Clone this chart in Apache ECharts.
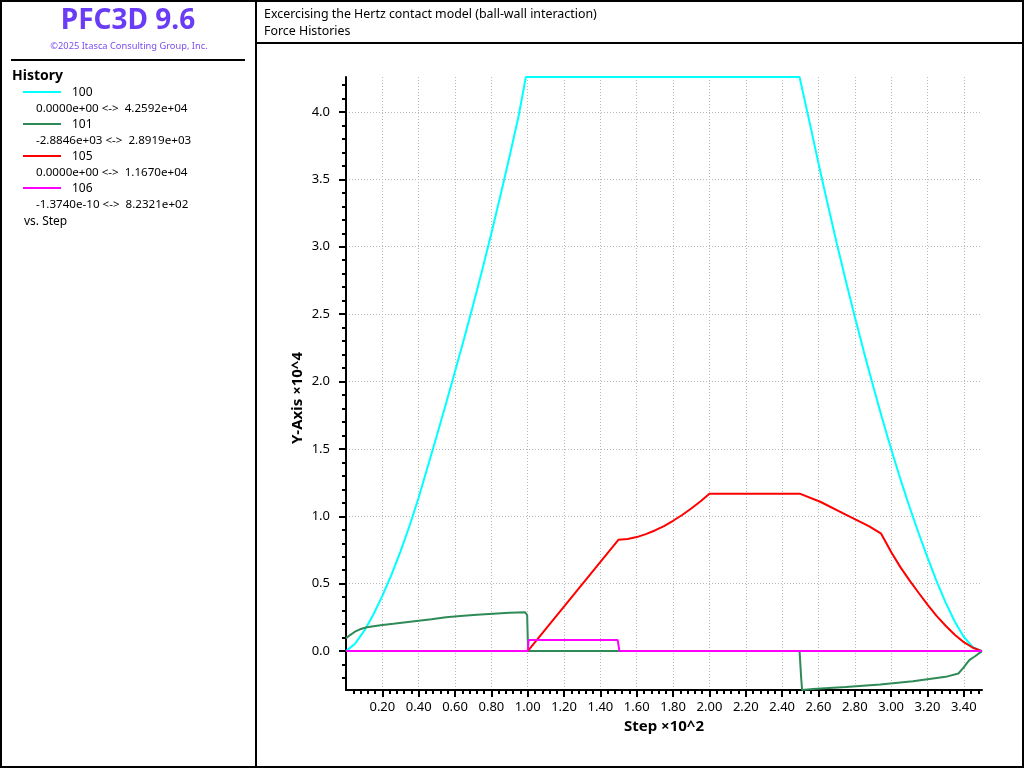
<!DOCTYPE html>
<html><head><meta charset="utf-8">
<script src="https://cdn.jsdelivr.net/npm/echarts@6/dist/echarts.min.js"></script>
<style>html,body{margin:0;padding:0;background:#fff}#c{width:1024px;height:768px}</style>
</head><body><div id="c"></div>
<script>
// ---------- text ----------
const appTitle = 'PFC3D 9.6';
const copyright = '\u00A92025 Itasca Consulting Group, Inc.';
const titleLine1 = 'Excercising the Hertz contact model (ball-wall interaction)';
const titleLine2 = 'Force Histories';
const historyHeader = 'History';
const historyIds = ['100', '101', '105', '106'];
const historyRanges = [
  '0.0000e+00 <->  4.2592e+04',
  '-2.8846e+03 <->  2.8919e+03',
  '0.0000e+00 <->  1.1670e+04',
  '-1.3740e-10 <->  8.2321e+02'
];
const vsText = 'vs. Step';
const xName = 'Step \u00D710^2';
const yName = 'Y-Axis \u00D710^4';
const seriesColors = ['#00ffff', '#2e8b57', '#ff0000', '#ff00ff'];

// ---------- ticks ----------
const xTicks = [0.2, 0.4, 0.6, 0.8, 1.0, 1.2, 1.4, 1.6, 1.8, 2.0, 2.2, 2.4, 2.6, 2.8, 3.0, 3.2, 3.4];
const yTicks = [0.0, 0.5, 1.0, 1.5, 2.0, 2.5, 3.0, 3.5, 4.0];
const xRange = [0, 3.5];
const yRange = [-0.28846, 4.2592];

// ---------- data (step x10^2, value x10^4) ----------
const step100 = [0, 0.05, 0.10, 0.15, 0.20, 0.25, 0.30, 0.35, 0.40, 0.45, 0.50, 0.55, 0.60, 0.65, 0.70, 0.75, 0.80, 0.85, 0.90, 0.95, 0.99,
  2.496, 2.55, 2.60, 2.65, 2.70, 2.75, 2.80, 2.85, 2.90, 2.95, 3.00, 3.05, 3.10, 3.15, 3.20, 3.25, 3.30, 3.35, 3.40, 3.45, 3.50];
const val100 = [0, 0.055, 0.15, 0.27, 0.41, 0.565, 0.74, 0.93, 1.14, 1.37, 1.60, 1.835, 2.075, 2.32, 2.57, 2.83, 3.10, 3.38, 3.67, 3.97, 4.2592,
  4.2592, 3.93, 3.62, 3.32, 3.03, 2.75, 2.48, 2.22, 1.97, 1.73, 1.50, 1.28, 1.075, 0.88, 0.695, 0.52, 0.36, 0.22, 0.105, 0.03, 0];

const step101 = [0, 0.022, 0.049, 0.077, 0.114, 0.19, 0.26, 0.33, 0.40, 0.47, 0.55, 0.63, 0.72, 0.81, 0.90, 0.985, 0.997, 1.002,
  2.496, 2.505, 2.51, 2.57, 2.75, 2.94, 3.12, 3.30, 3.37, 3.395, 3.43, 3.46, 3.50];
const val101 = [0.095, 0.119, 0.144, 0.162, 0.177, 0.192, 0.203, 0.215, 0.226, 0.237, 0.251, 0.260, 0.269, 0.277, 0.284, 0.2892, 0.268, 0,
  0, -0.20, -0.28846, -0.281, -0.266, -0.248, -0.223, -0.191, -0.166, -0.128, -0.067, -0.04, 0];

const step105 = [0, 1.0, 1.5, 1.55, 1.60, 1.65, 1.70, 1.75, 1.80, 1.85, 1.90, 1.95, 2.0, 2.5, 2.61, 2.75, 2.88, 2.945, 2.97,
  3.00, 3.05, 3.10, 3.15, 3.20, 3.25, 3.30, 3.35, 3.40, 3.45, 3.50];
const val105 = [0, 0, 0.827, 0.832, 0.846, 0.868, 0.895, 0.928, 0.967, 1.01, 1.058, 1.11, 1.167, 1.167, 1.108, 1.013, 0.926, 0.871, 0.81,
  0.735, 0.625, 0.527, 0.435, 0.345, 0.262, 0.188, 0.122, 0.066, 0.025, 0];

const step106 = [0, 1.0, 1.005, 1.495, 1.505, 3.50];
const val106 = [0, 0, 0.0823, 0.0823, 0, 0];

// ---------- build ----------
const FONT = "'Noto Sans', 'Open Sans', sans-serif";
const pair = (xs, ys) => xs.map((x, i) => [x, ys[i]]);
const minorX = []; for (let i = 1; i * 0.04 < 3.5; i++) minorX.push(+(i * 0.04).toFixed(2));
const minorY = []; for (let i = -2; i <= 42; i++) minorY.push(+(i * 0.1).toFixed(1));

const GRID = { left: 346, top: 77, right: 42, bottom: 78 };
const dotted = { color: '#b8b8b8', width: 1, type: [1, 2] };

const graphics = [
  { type: 'rect', shape: { x: 1, y: 1, width: 1022, height: 766 }, style: { fill: 'none', stroke: '#000', lineWidth: 2 }, silent: true },
  { type: 'line', shape: { x1: 256, y1: 0, x2: 256, y2: 768 }, style: { stroke: '#000', lineWidth: 2 } },
  { type: 'line', shape: { x1: 256, y1: 43, x2: 1024, y2: 43 }, style: { stroke: '#000', lineWidth: 2 } },
  { type: 'line', shape: { x1: 11, y1: 60, x2: 245, y2: 60 }, style: { stroke: '#000', lineWidth: 2 } },
  { type: 'text', x: 128, y: 21, style: { text: appTitle, fill: '#6b3cf6', font: "bold 28px " + FONT, textAlign: 'center', textVerticalAlign: 'middle' } },
  { type: 'text', x: 129, y: 46, style: { text: copyright, fill: '#7a4cf2', font: "9.3px " + FONT, textAlign: 'center', textVerticalAlign: 'middle' } },
  { type: 'text', x: 12, y: 76, style: { text: historyHeader, fill: '#000', font: "bold 14px " + FONT, textVerticalAlign: 'middle' } },
  { type: 'text', x: 264, y: 14, style: { text: titleLine1, fill: '#000', font: "12.4px " + FONT, textVerticalAlign: 'middle' } },
  { type: 'text', x: 264, y: 31, style: { text: titleLine2, fill: '#000', font: "12.4px " + FONT, textVerticalAlign: 'middle' } },
  { type: 'text', x: 24, y: 222, style: { text: vsText, fill: '#000', font: "12px " + FONT, textVerticalAlign: 'middle' } },
  { type: 'text', x: 664, y: 727, style: { text: xName, fill: '#000', font: "bold 15px " + FONT, textAlign: 'center', textVerticalAlign: 'middle' } },
  { type: 'text', x: 298, y: 398, rotation: Math.PI / 2, style: { text: yName, fill: '#000', font: "bold 15px " + FONT, textAlign: 'center', textVerticalAlign: 'middle' } }
];
historyIds.forEach((id, i) => {
  const y = 93 + i * 32;
  graphics.push({ type: 'line', shape: { x1: 23, y1: y - 1, x2: 61, y2: y - 1 }, style: { stroke: seriesColors[i], lineWidth: 2 } });
  graphics.push({ type: 'text', x: 72, y: y, style: { text: id, fill: '#000', font: "12px " + FONT, textVerticalAlign: 'middle' } });
  graphics.push({ type: 'text', x: 36, y: y + 16, style: { text: historyRanges[i], fill: '#000', font: "11.6px " + FONT, textVerticalAlign: 'middle' } });
});

const chart = echarts.init(document.getElementById('c'), null, { renderer: 'canvas' });
const series = [
  { data: pair(step100, val100) },
  { data: pair(step101, val101) },
  { data: pair(step105, val105) },
  { data: pair(step106, val106) }
].map((s, i) => ({
  type: 'line', name: historyIds[i], data: s.data, xAxisIndex: 0, yAxisIndex: 0,
  showSymbol: false, symbol: 'none', animation: false, clip: true,
  lineStyle: { color: seriesColors[i], width: 2 }, z: 3 + i
}));

chart.setOption({
  animation: false,
  backgroundColor: '#fff',
  grid: [Object.assign({}, GRID), Object.assign({}, GRID)],
  xAxis: [
    { type: 'value', gridIndex: 0, min: xRange[0], max: xRange[1], position: 'bottom',
      axisLine: { show: true, onZero: false, lineStyle: { color: '#000', width: 2 } },
      axisTick: { show: true, customValues: xTicks, length: 7, lineStyle: { color: '#000', width: 2 } },
      axisLabel: { show: true, customValues: xTicks, formatter: v => v.toFixed(2), color: '#000', fontFamily: FONT, fontSize: 13, margin: 11 },
      splitLine: { show: true, lineStyle: dotted }, z: 2 },
    { type: 'value', gridIndex: 1, min: xRange[0], max: xRange[1], position: 'bottom',
      axisLine: { show: false, onZero: false }, axisLabel: { show: false }, splitLine: { show: false },
      axisTick: { show: true, customValues: minorX, length: 4, lineStyle: { color: '#000', width: 2 } } }
  ],
  yAxis: [
    { type: 'value', gridIndex: 0, min: yRange[0], max: yRange[1], position: 'left',
      axisLine: { show: true, onZero: false, lineStyle: { color: '#000', width: 2 } },
      axisTick: { show: true, customValues: yTicks, length: 7, lineStyle: { color: '#000', width: 2 } },
      axisLabel: { show: true, customValues: yTicks, formatter: v => v.toFixed(1), color: '#000', fontFamily: FONT, fontSize: 13, margin: 16 },
      splitLine: { show: true, lineStyle: dotted }, z: 2 },
    { type: 'value', gridIndex: 1, min: yRange[0], max: yRange[1], position: 'left',
      axisLine: { show: false, onZero: false }, axisLabel: { show: false }, splitLine: { show: false },
      axisTick: { show: true, customValues: minorY, length: 4, lineStyle: { color: '#000', width: 2 } } }
  ],
  series: series,
  graphic: graphics
});
</script>
</body></html>
